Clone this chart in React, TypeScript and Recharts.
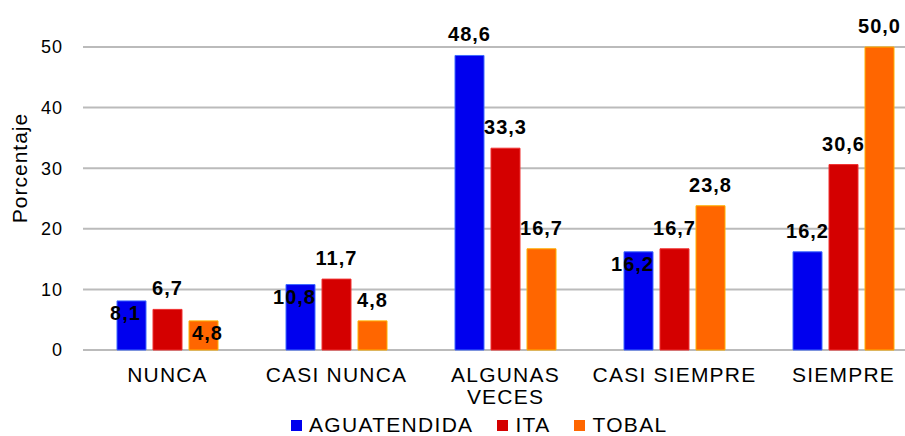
import React from "react";
import { BarChart, Bar, XAxis, YAxis, CartesianGrid, Legend, LabelList } from "recharts";

const categories = ["NUNCA", "CASI NUNCA", "ALGUNAS\nVECES", "CASI SIEMPRE", "SIEMPRE"];
const aguatendida = [8.1, 10.8, 48.6, 16.2, 16.2];
const ita = [6.7, 11.7, 33.3, 16.7, 30.6];
const tobal = [4.8, 4.8, 16.7, 23.8, 50.0];
const yTicks = [0, 10, 20, 30, 40, 50];

const SERIES = [
  { key: "AGUATENDIDA", color: "#0000EE", edge: "#3F6BFF", side: -1 },
  { key: "ITA", color: "#D40000", edge: "#F03030", side: 0 },
  { key: "TOBAL", color: "#FF6600", edge: "#FFB000", side: 1 },
];

const chartData = categories.map((name, i) => ({
  name,
  AGUATENDIDA: aguatendida[i],
  ITA: ita[i],
  TOBAL: tobal[i],
}));

const FONT = "'Liberation Sans', Arial, sans-serif";

const fmt = (v: number) => v.toFixed(1).replace(".", ",");

// labels of outer bars that would collide with the middle bar's label sit inside the bar top
const makeLabel = (side: number) => (props: any) => {
  const { x, y, width, value, index } = props;
  const clash = side !== 0 && Math.abs(value - ita[index]) < 3;
  const tx = x + width / 2 + (clash ? (side < 0 ? -6 : 4) : 0);
  const ty = clash ? y + 19 : y - 14;
  return (
    <text
      x={tx}
      y={ty}
      textAnchor="middle"
      fontFamily={FONT}
      fontWeight="bold"
      fontSize={20}
      letterSpacing={1}
      fill="#000"
    >
      {fmt(value)}
    </text>
  );
};

const CategoryTick = (props: any) => {
  const { x, y, payload } = props;
  const lines = String(payload.value).split("\n");
  return (
    <text x={x} y={y + 32} textAnchor="middle" fontFamily={FONT} fontSize={21} letterSpacing={1.2} fill="#000">
      {lines.map((line, i) => (
        <tspan key={i} x={x} dy={i === 0 ? 0 : 22}>
          {line}
        </tspan>
      ))}
    </text>
  );
};

const LegendContent = () => (
  <div style={{ display: "flex", alignItems: "center", height: 22, fontFamily: FONT, fontSize: 21, letterSpacing: 1.3, color: "#000", whiteSpace: "nowrap" }}>
    {SERIES.map((s) => (
      <div key={s.key} style={{ display: "flex", alignItems: "center", marginRight: 24 }}>
        <span style={{ display: "inline-block", width: 11, height: 11, background: s.color, marginRight: 7 }} />
        <span>{s.key}</span>
      </div>
    ))}
  </div>
);

export default function App() {
  return (
    <div style={{ position: "absolute", left: 0, top: 0, width: 905, height: 436, overflow: "hidden", background: "#fff" }}>
      <BarChart
        width={930}
        height={436}
        data={chartData}
        margin={{ top: 47, right: 2, left: 0, bottom: 0 }}
        barSize={29}
        barGap={7}
      >
        <CartesianGrid vertical={false} stroke="#BBBBBB" strokeWidth={2} />
        <XAxis
          dataKey="name"
          axisLine={false}
          tickLine={false}
          tickSize={0}
          tickMargin={0}
          height={64}
          interval={0}
          tick={<CategoryTick />}
        />
        <YAxis
          domain={[0, 50]}
          ticks={yTicks}
          width={83}
          axisLine={false}
          tickLine={false}
          tickSize={0}
          tickMargin={20}
          tick={{ fontFamily: FONT, fontSize: 18, fill: "#000", letterSpacing: 1 }}
          label={{
            content: () => (
              <text
                x={27}
                y={168}
                transform="rotate(-90 27 168)"
                textAnchor="middle"
                fontFamily={FONT}
                fontSize={21}
                letterSpacing={1}
                fill="#000"
              >
                Porcentaje
              </text>
            ),
          }}
        />
        <Legend content={<LegendContent />} wrapperStyle={{ left: 291, bottom: 0, width: "auto" }} />
        {SERIES.map((s) => (
          <Bar key={s.key} dataKey={s.key} fill={s.color} stroke={s.edge} strokeWidth={1} isAnimationActive={false}>
            <LabelList dataKey={s.key} content={makeLabel(s.side)} />
          </Bar>
        ))}
      </BarChart>
    </div>
  );
}
